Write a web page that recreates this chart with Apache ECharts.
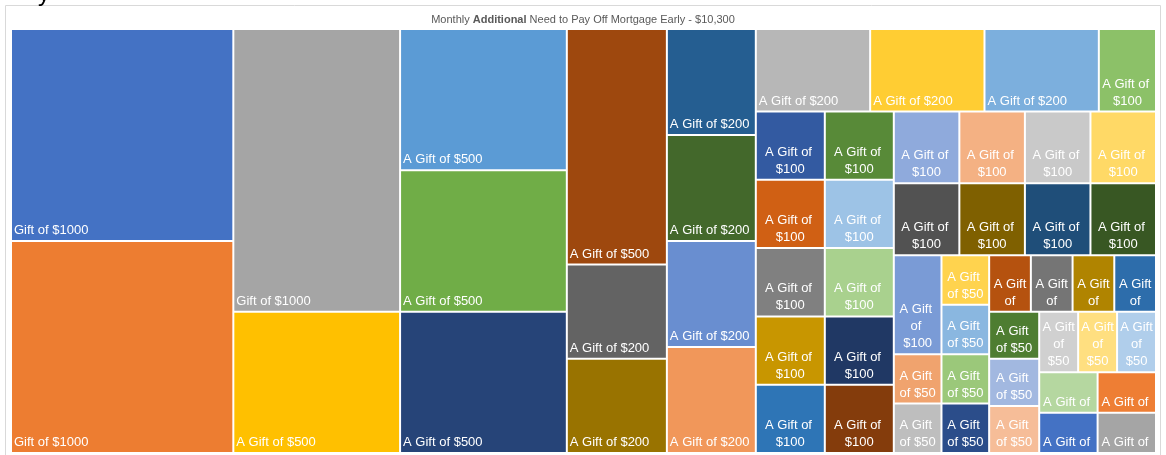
<!DOCTYPE html>
<html>
<head>
<meta charset="utf-8">
<script src="https://cdn.jsdelivr.net/npm/echarts@6/dist/echarts.min.js"></script>
<style>
  html, body { margin: 0; padding: 0; background: #fff; }
  #canva { width: 1166px; height: 455px; }
</style>
</head>
<body>
<div id="canva"></div>
<script>
// ========== Gift data ==========
const giftLabels = [
    'Gift of $1000', 'Gift of $1000', 'Gift of $1000',
    'A Gift of $500', 'A Gift of $500', 'A Gift of $500', 'A Gift of $500', 'A Gift of $500',
    'A Gift of $200', 'A Gift of $200', 'A Gift of $200', 'A Gift of $200', 'A Gift of $200',
    'A Gift of $200', 'A Gift of $200', 'A Gift of $200', 'A Gift of $200',
    'A Gift of $100', 'A Gift of $100', 'A Gift of $100', 'A Gift of $100', 'A Gift of $100',
    'A Gift of $100', 'A Gift of $100', 'A Gift of $100', 'A Gift of $100', 'A Gift of $100',
    'A Gift of $100', 'A Gift of $100', 'A Gift of $100', 'A Gift of $100', 'A Gift of $100',
    'A Gift of $100', 'A Gift of $100', 'A Gift of $100', 'A Gift of $100', 'A Gift of $100',
    'A Gift of $50', 'A Gift of $50', 'A Gift of $50', 'A Gift of $50', 'A Gift of $50',
    'A Gift of $50', 'A Gift of $50', 'A Gift of $50', 'A Gift of $50', 'A Gift of $50',
    'A Gift of $50', 'A Gift of $50', 'A Gift of $50', 'A Gift of $50', 'A Gift of $50',
    'A Gift of $50', 'A Gift of $50', 'A Gift of $50', 'A Gift of $50', 'A Gift of $50'
];

const giftValues = [
    1000, 1000, 1000,
    500, 500, 500, 500, 500,
    200, 200, 200, 200, 200, 200, 200, 200, 200,
    100, 100, 100, 100, 100, 100, 100, 100, 100, 100,
    100, 100, 100, 100, 100, 100, 100, 100, 100, 100,
    50, 50, 50, 50, 50, 50, 50, 50, 50, 50,
    50, 50, 50, 50, 50, 50, 50, 50, 50, 50
];

// Office-style palette, one colour per gift
const giftColors = [
    '#4472C4', '#ED7D31', '#A5A5A5',
    '#FFC000', '#5B9BD5', '#70AD47', '#264478', '#9E480E',
    '#636363', '#997300', '#255E91', '#43682B', '#698ED0', '#F1975A',
    '#B7B7B7', '#FFCD33', '#7CAFDD',
    '#8CC168', '#335AA1', '#588A38', '#8FAADC', '#F4B183', '#C9C9C9', '#FFD966',
    '#D06014', '#9DC3E6', '#808080', '#A9D18E', '#C89600', '#203864', '#2E75B6', '#843C0C',
    '#525252', '#7F6000', '#1F4E79', '#385723', '#7A9BD6',
    '#F0A36E', '#BEBEBE', '#FFD34E', '#8AB7E0', '#9BC87A', '#2B4D8A',
    '#B5520F', '#757575', '#B08400', '#2D6DAB',
    '#4E7D31', '#A2B8E0', '#F6BD98',
    '#D0D0D0', '#FFDF80', '#B0CEEB',
    '#B5D7A0', '#EE7E34', '#4472C4', '#A5A5A5'
];

// How the tiles are grouped into strips (indexes into the arrays above)
const giftBlocks = [
    [0, 1],
    [2, 3],
    [4, 5, 6],
    [7, 8, 9],
    [10, 11, 12, 13],
    [
        [14, 15, 16, 17],
        [
            [[18, 19], [24, 25], [26, 27], [28, 30], [29, 31]],
            [
                [20, 21, 22, 23],
                [32, 33, 34, 35],
                [
                    [36, 37, 38],
                    [39, 40, 41, 42],
                    [
                        [43, 44, 45, 46],
                        [
                            [47, 48, 49],
                            [
                                [50, 51, 52],
                                [[53, 55], [54, 56]]
                            ]
                        ]
                    ]
                ]
            ]
        ]
    ]
];

// Turn the block list into treemap nodes
function buildNode(item) {
    if (typeof item === 'number') {
        let node = {
            name: giftLabels[item],
            value: giftValues[item],
            itemStyle: { color: giftColors[item], borderWidth: 1, borderColor: '#fff' }
        };
        // small tiles wrap, Excel centres the wrapped lines
        if (giftValues[item] <= 100) {
            node.label = { position: 'insideBottom', padding: [4, 2, 1, 2] };
        }
        return node;
    }
    return { children: item.map(buildNode) };
}

var chartDom = document.getElementById('canva');
var myChart = echarts.init(chartDom);
var option = {
    animation: false,
    title: {
        text: 'Monthly {b|Additional} Need to Pay Off Mortgage Early - $10,300',
        left: 'center',
        top: 9,
        textStyle: {
            fontFamily: 'Liberation Sans',
            fontSize: 11,
            fontWeight: 'normal',
            color: '#595959',
            rich: {
                b: { fontFamily: 'Liberation Sans', fontSize: 11, fontWeight: 'bold', color: '#595959' }
            }
        }
    },
    graphic: [
        {
            type: 'rect',
            shape: { x: 5.5, y: 5.5, width: 1155, height: 470 },
            style: { fill: 'none', stroke: '#d9d9d9', lineWidth: 1 },
            silent: true
        },
        {
            type: 'text',
            x: 38,
            y: -18,
            style: { text: 'y', font: '24px Liberation Sans', fill: '#000' },
            silent: true
        }
    ],
    series: [
        {
            type: 'treemap',
            left: 11,
            top: 29,
            width: 1145,
            height: 424,
            sort: false,
            squareRatio: 0.1,
            roam: false,
            nodeClick: false,
            breadcrumb: { show: false },
            itemStyle: { borderWidth: 0, gapWidth: 0, borderColor: '#fff' },
            label: {
                show: true,
                position: 'insideBottomLeft',
                distance: 0,
                padding: [2, 2, 1, 2],
                color: '#fff',
                fontFamily: 'Liberation Sans',
                fontSize: 13,
                lineHeight: 17,
                overflow: 'break'
            },
            data: giftBlocks.map(buildNode)
        }
    ]
};
option && myChart.setOption(option);
</script>
</body>
</html>
